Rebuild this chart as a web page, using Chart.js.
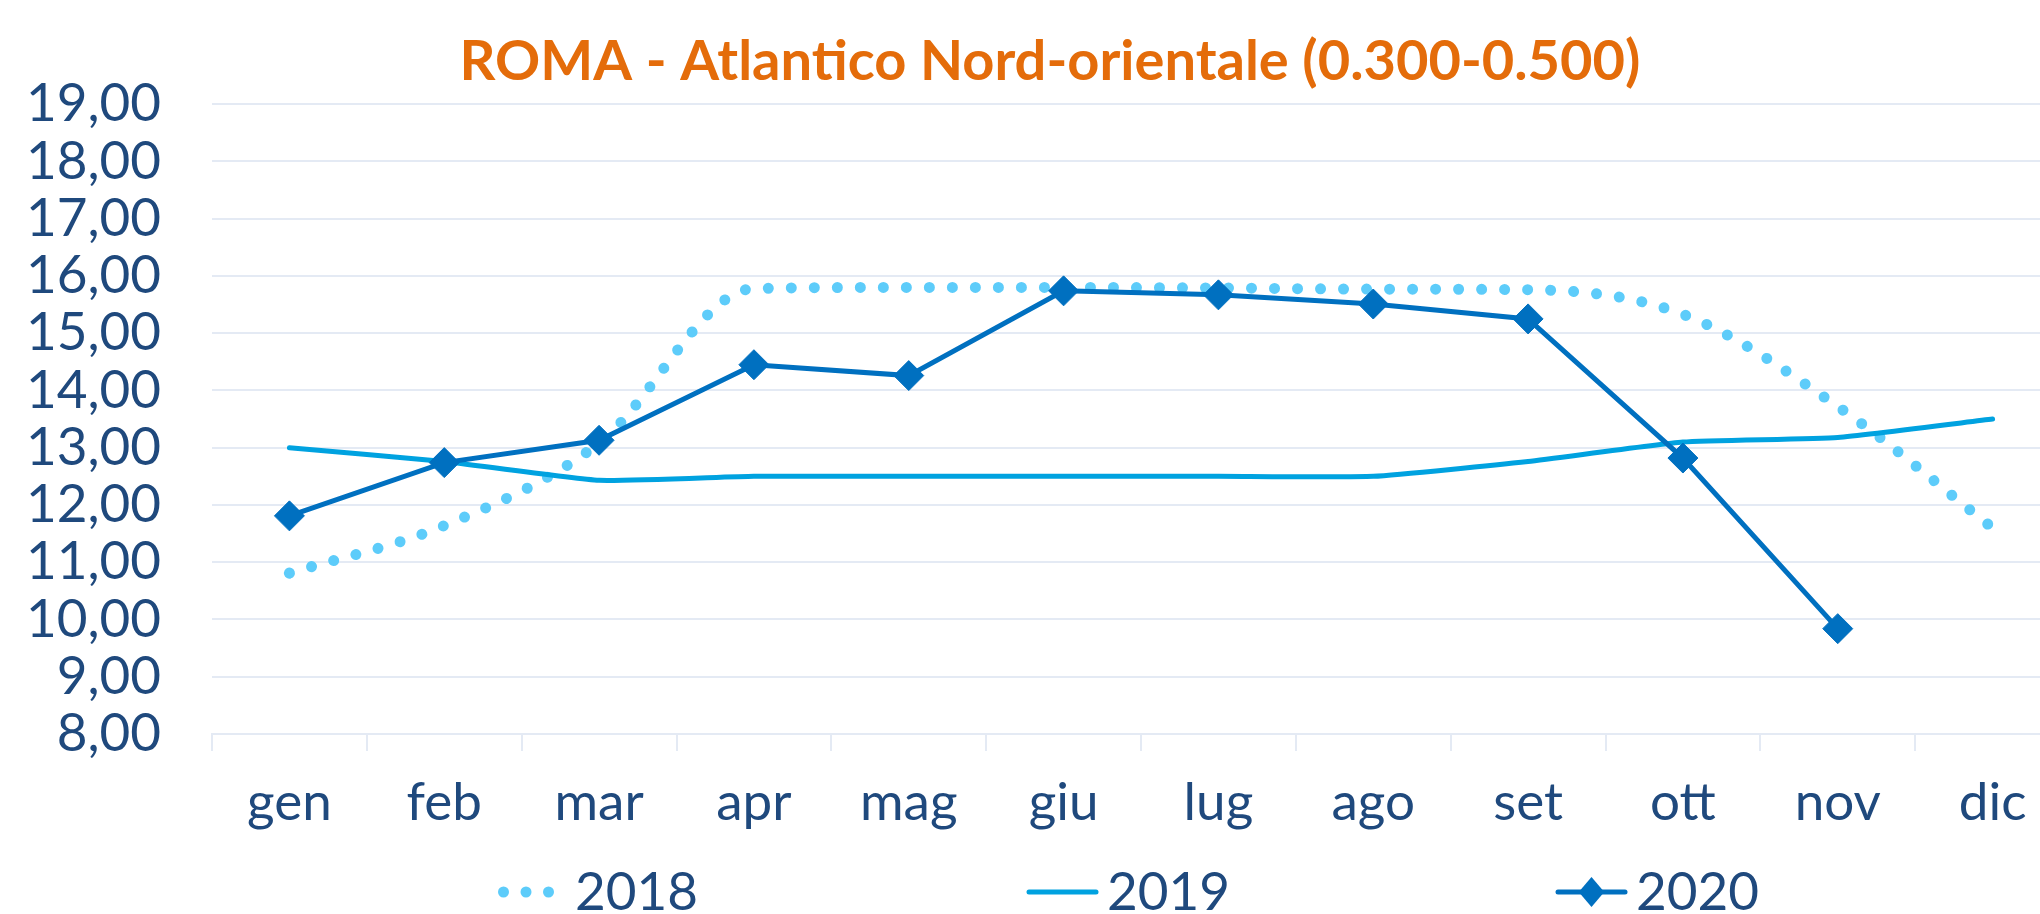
<!DOCTYPE html>
<html>
<head>
<meta charset="utf-8">
<script src="https://cdn.jsdelivr.net/npm/chart.js@4"></script>
<style>
  html, body { margin: 0; padding: 0; background: #ffffff; overflow: hidden; }
  #wrap { width: 2100px; height: 914px; position: relative; }
</style>
</head>
<body>
<div id="wrap"><canvas id="c"></canvas></div>
<script>
// ---- data ----
const categories = ['gen','feb','mar','apr','mag','giu','lug','ago','set','ott','nov','dic'];
const seriesNames = ['2018','2019','2020'];
const values2018 = [10.81, 11.64, 13.08, 15.78, 15.80, 15.80, 15.79, 15.77, 15.76, 15.33, 13.72, 11.60];
const values2019 = [13.00, 12.76, 12.43, 12.50, 12.50, 12.50, 12.50, 12.50, 12.76, 13.10, 13.18, 13.50];
const values2020 = [11.81, 12.74, 13.13, 14.45, 14.26, 15.74, 15.67, 15.51, 15.25, 12.82, 9.84, null];
const yMin = 8, yMax = 19, yStep = 1;
const titleText = 'ROMA - Atlantico Nord-orientale (0.300-0.500)';

// ---- style ----
const FONT = 'Lato';
const NAVY = '#1F497D';
const ORANGE = '#E46C0A';
const GRID = '#E4EAF4';
const C2018 = '#5DCCFA';
const C2019 = '#00A2E0';
const C2020 = '#0070C0';

const legendPlugin = {
  id: 'customLegend',
  afterDraw(chart) {
    const ctx = chart.ctx;
    const cx = chart.width / 2;
    const y = 892;
    const spacing = 529;
    const symW = 71;
    ctx.save();
    chart.data.datasets.forEach((ds, i) => {
      const x0 = cx - 552 + i * spacing;
      if (i === 0) {
        ctx.fillStyle = ds.borderColor;
        for (let k = 0; k < 3; k++) {
          ctx.beginPath();
          ctx.arc(x0 + 5.5 + k * 22.5, y, 5.5, 0, Math.PI * 2);
          ctx.fill();
        }
      } else {
        ctx.strokeStyle = ds.borderColor;
        ctx.lineWidth = 5;
        ctx.lineCap = 'round';
        ctx.beginPath();
        ctx.moveTo(x0 + 2, y);
        ctx.lineTo(x0 + symW - 2, y);
        ctx.stroke();
        if (ds.pointRadius > 0) {
          const r = 15;
          const mx = x0 + symW / 2;
          ctx.fillStyle = ds.pointBackgroundColor;
          ctx.beginPath();
          ctx.moveTo(mx, y - r);
          ctx.lineTo(mx + r * 0.85, y);
          ctx.lineTo(mx, y + r);
          ctx.lineTo(mx - r * 0.85, y);
          ctx.closePath();
          ctx.fill();
        }
      }
      ctx.fillStyle = NAVY;
      ctx.font = '53px ' + FONT;
      ctx.textAlign = 'left';
      ctx.textBaseline = 'middle';
      const tx = i === 0 ? x0 + 77 : x0 + symW + 9;
      ctx.fillText(ds.label, tx, y + 1);
    });
    ctx.restore();
  }
};

new Chart(document.getElementById('c'), {
  type: 'line',
  data: {
    labels: categories,
    datasets: [
      {
        label: seriesNames[0],
        data: values2018,
        borderColor: C2018,
        backgroundColor: C2018,
        borderWidth: 11,
        borderDash: [0.01, 23],
        borderCapStyle: 'round',
        cubicInterpolationMode: 'monotone',
        pointRadius: 0,
        order: 3
      },
      {
        label: seriesNames[1],
        data: values2019,
        borderColor: C2019,
        backgroundColor: C2019,
        borderWidth: 5,
        tension: 0.15,
        pointRadius: 0,
        borderCapStyle: 'round',
        order: 2
      },
      {
        label: seriesNames[2],
        data: values2020,
        borderColor: C2020,
        backgroundColor: C2020,
        borderWidth: 5,
        tension: 0,
        pointStyle: 'rectRot',
        pointRadius: 15,
        pointBackgroundColor: C2020,
        pointBorderColor: C2020,
        pointBorderWidth: 1,
        order: 1
      }
    ]
  },
  options: {
    responsive: true,
    maintainAspectRatio: false,
    animation: false,
    devicePixelRatio: 1,
    layout: { padding: { left: 30, right: 30, top: 0, bottom: 0 } },
    plugins: {
      legend: { display: false },
      tooltip: { enabled: false },
      title: {
        display: true,
        text: titleText,
        color: ORANGE,
        font: { family: FONT, size: 56, weight: 'bold' },
        padding: { top: 28, bottom: 9 }
      }
    },
    scales: {
      x: {
        offset: true,
        grid: {
          offset: true,
          drawOnChartArea: false,
          drawTicks: true,
          tickLength: 17,
          color: GRID,
          lineWidth: 2
        },
        border: { display: true, color: GRID, width: 2 },
        ticks: {
          color: NAVY,
          font: { family: FONT, size: 53 },
          padding: 20,
          maxRotation: 0,
          autoSkip: false
        },
        afterFit(s) { s.height = 180; }
      },
      y: {
        min: yMin,
        max: yMax,
        grid: { color: GRID, lineWidth: 2, drawTicks: false },
        border: { display: false },
        ticks: {
          stepSize: yStep,
          autoSkip: false,
          color: NAVY,
          font: { family: FONT, size: 53 },
          padding: 51,
          callback: (v) => Number(v).toFixed(2).replace('.', ',')
        },
        afterFit(s) { s.width = 182; }
      }
    }
  },
  plugins: [legendPlugin]
});
</script>
</body>
</html>
